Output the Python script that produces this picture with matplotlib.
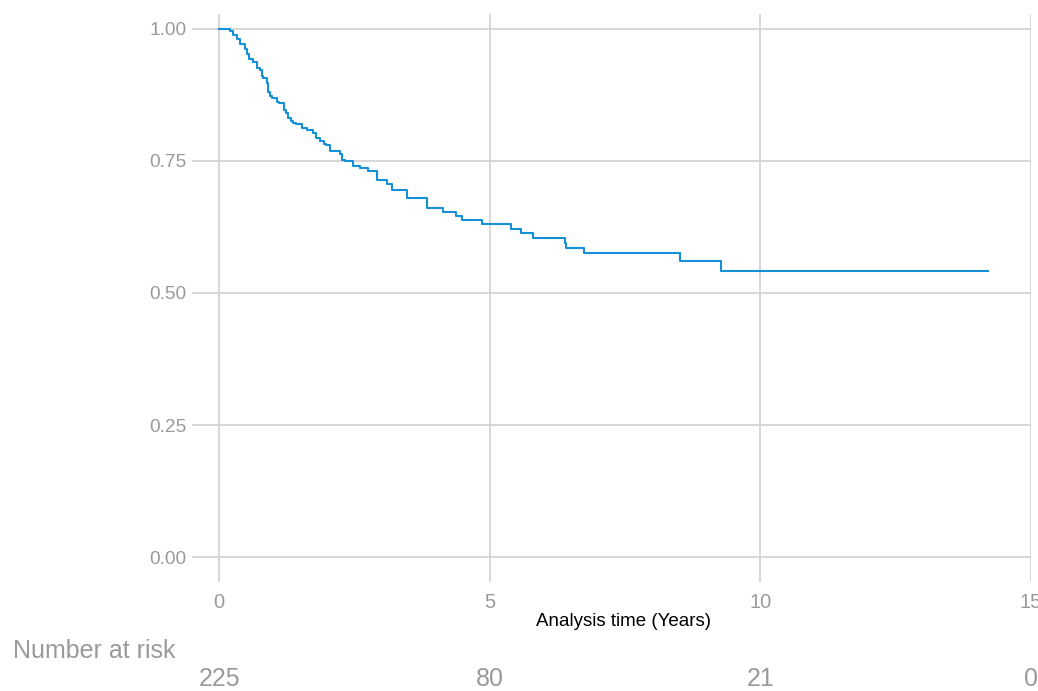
import matplotlib
matplotlib.use("Agg")
import matplotlib.pyplot as plt
from matplotlib.transforms import blended_transform_factory

# Kaplan-Meier estimate (steps-post)
times = [0, 0.20, 0.26, 0.33, 0.39, 0.48, 0.52, 0.56, 0.63, 0.71, 0.75, 0.79,
         0.82, 0.88, 0.91, 0.94, 0.97, 1.07, 1.11, 1.20, 1.23, 1.28, 1.33, 1.37,
         1.42, 1.53, 1.63, 1.74, 1.79, 1.87, 1.94, 1.98, 2.05, 2.24, 2.27, 2.33,
         2.48, 2.61, 2.76, 2.92, 3.11, 3.19, 3.48, 3.85, 4.14, 4.37, 4.48, 4.86,
         5.40, 5.57, 5.80, 6.39, 6.41, 6.74, 8.51, 9.27, 14.21]
surv = [1.0, 0.996, 0.989, 0.981, 0.972, 0.962, 0.952, 0.943, 0.938, 0.926,
        0.922, 0.910, 0.907, 0.897, 0.881, 0.872, 0.869, 0.861, 0.859, 0.847,
        0.840, 0.831, 0.826, 0.821, 0.820, 0.812, 0.809, 0.802, 0.793, 0.788,
        0.782, 0.780, 0.769, 0.763, 0.752, 0.749, 0.741, 0.736, 0.730, 0.714,
        0.706, 0.694, 0.680, 0.660, 0.653, 0.646, 0.638, 0.631, 0.621, 0.614,
        0.604, 0.595, 0.586, 0.576, 0.561, 0.542, 0.542]

# Number at risk table
risk_times = [0, 5, 10, 15]
risk_counts = [225, 80, 21, 0]

x_ticks = [0, 5, 10, 15]
y_ticks = [0.00, 0.25, 0.50, 0.75, 1.00]

grey = "#9a9a9a"
grid_col = "#d4d4d4"
line_col = "#1490d6"

plt.rcParams['font.family'] = ['Liberation Sans', 'DejaVu Sans']

fig = plt.figure(figsize=(10.38, 6.91), dpi=100)
W, H = 1038, 691
ax = fig.add_axes([192 / W, (H - 582) / H, (1031 - 192) / W, (582 - 14) / H])

ax.plot(times, surv, drawstyle="steps-post", color=line_col, lw=1.5, zorder=3)

ax.set_xlim(-0.5, 15.0)
ax.set_ylim(-0.047, 1.028)
ax.set_xticks(x_ticks)
ax.set_xticklabels([str(t) for t in x_ticks])
ax.set_yticks(y_ticks)
ax.set_yticklabels([f"{v:.2f}" for v in y_ticks])

for s in ax.spines.values():
    s.set_visible(False)
ax.grid(True, color=grid_col, lw=1.3)
ax.set_axisbelow(True)
ax.tick_params(axis="both", length=0, colors=grey)
ax.tick_params(axis="x", pad=8, labelsize=14.5)
ax.tick_params(axis="y", pad=4, labelsize=13.8)

fig.text(623 / W, 1 - 621 / H, "Analysis time (Years)", ha="center", va="center",
         fontsize=13.5, color="black")

fig.text(13 / W, 1 - 651 / H, "Number at risk", ha="left", va="center",
         fontsize=18, color=grey)
trans = blended_transform_factory(ax.transData, fig.transFigure)
for t, n in zip(risk_times, risk_counts):
    ax.text(t, 1 - 679 / H, str(n), transform=trans, ha="center", va="center",
            fontsize=18, color=grey, clip_on=False)

fig.savefig("out.png", dpi=100)
